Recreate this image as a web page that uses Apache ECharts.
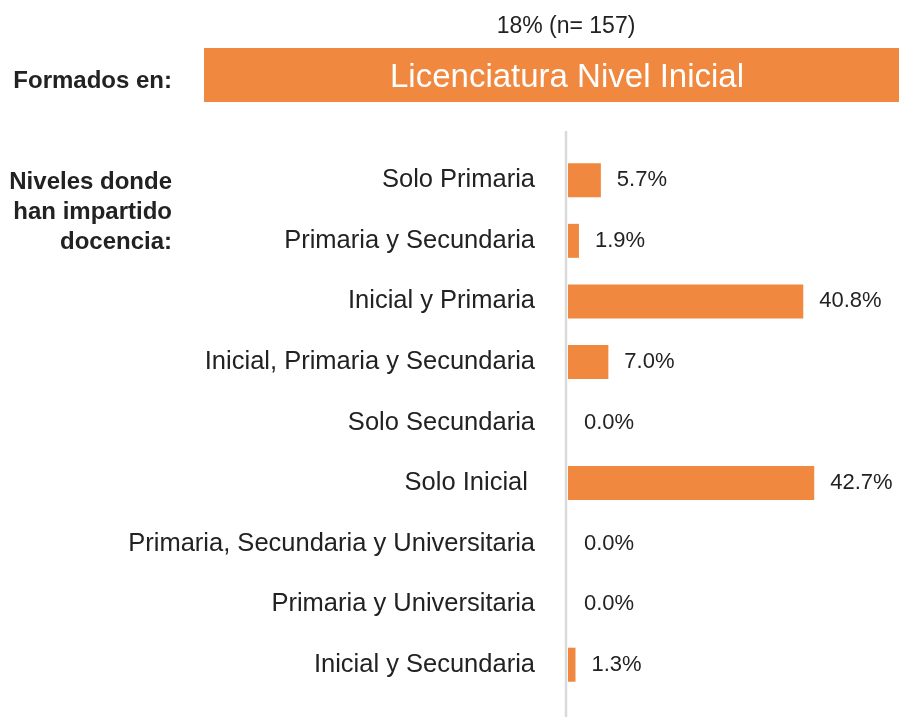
<!DOCTYPE html>
<html>
<head>
<meta charset="utf-8">
<script src="https://cdn.jsdelivr.net/npm/echarts@6/dist/echarts.min.js"></script>
<style>
  html, body { margin: 0; padding: 0; background: #fff; }
  #main { width: 899px; height: 717px; }
</style>
</head>
<body>
<div id="main"></div>
<script>
var niveles = ['Solo Primaria', 'Primaria y Secundaria', 'Inicial y Primaria',
    'Inicial, Primaria y Secundaria', 'Solo Secundaria', 'Solo Inicial ',
    'Primaria, Secundaria y Universitaria', 'Primaria y Universitaria', 'Inicial y Secundaria'];
var porcentajes = [5.7, 1.9, 40.8, 7.0, 0.0, 42.7, 0.0, 0.0, 1.3];
var formacion = 'Licenciatura Nivel Inicial';
var muestra = '18% (n= 157)';

var naranja = '#F0883F';
var fuente = '"Liberation Sans", Arial, Helvetica, sans-serif';

option = {
    backgroundColor: '#fff',
    animation: false,
    title: [{
        text: muestra,
        left: 561,
        top: 10,
        textAlign: 'center',
        textStyle: { fontFamily: fuente, fontSize: 23, fontWeight: 'normal', color: '#222' }
    }, {
        text: formacion,
        left: 562,
        top: 56,
        textAlign: 'center',
        textStyle: { fontFamily: fuente, fontSize: 33, fontWeight: 'normal', color: '#fff' }
    }, {
        text: 'Formados en:',
        left: 167,
        top: 64,
        textAlign: 'right',
        textStyle: { fontFamily: fuente, fontSize: 24, fontWeight: 'bold', color: '#222' }
    }, {
        text: 'Niveles donde\nhan impartido\ndocencia:',
        left: 167,
        top: 162,
        textAlign: 'right',
        textStyle: { fontFamily: fuente, fontSize: 24, fontWeight: 'bold', color: '#222', lineHeight: 30 }
    }],
    graphic: [{
        type: 'rect',
        z: -1,
        shape: { x: 204, y: 48, width: 695, height: 54 },
        style: { fill: naranja }
    }, {
        type: 'line',
        shape: { x1: 566, y1: 131, x2: 566, y2: 717 },
        style: { stroke: '#d9d9d9', lineWidth: 2.5 }
    }],
    grid: {
        left: 568,
        right: 0,
        top: 150,
        bottom: 22
    },
    xAxis: {
        type: 'value',
        min: 0,
        max: 57.4,
        show: false
    },
    yAxis: {
        type: 'category',
        data: niveles,
        inverse: true,
        axisLine: { show: false },
        axisTick: { show: false },
        axisLabel: {
            margin: 33,
            fontFamily: fuente,
            fontSize: 25.5,
            color: '#222',
            padding: [0, 0, 8, 0]
        }
    },
    series: [{
        type: 'bar',
        data: porcentajes,
        barWidth: 34,
        itemStyle: { color: naranja },
        label: {
            show: true,
            position: 'right',
            distance: 16,
            fontFamily: fuente,
            fontSize: 22,
            color: '#222',
            formatter: function (p) {
                return p.value.toFixed(1) + '%';
            }
        }
    }]
};
var myChart = echarts.init(document.getElementById('main'));
myChart.setOption(option);
</script>
</body>
</html>
